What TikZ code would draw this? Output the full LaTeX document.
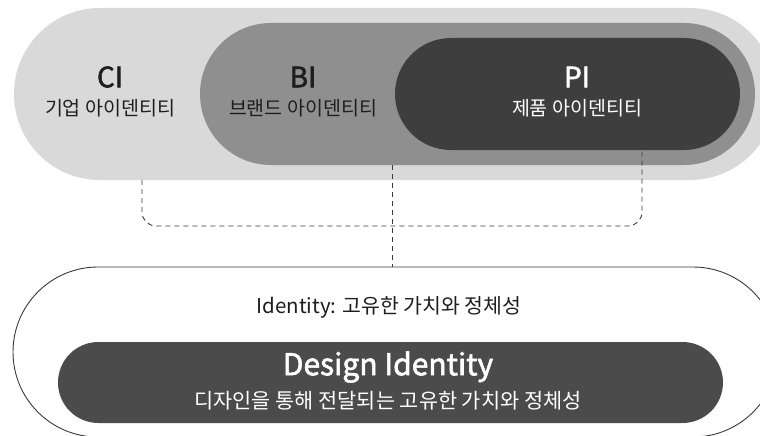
\documentclass[tikz,border=0pt]{standalone}
\usepackage{fontspec}
\setmainfont{Noto Sans CJK KR}
\newfontfamily\medio[FakeBold=2]{Noto Sans CJK KR}
\usepackage{tikz}
\usetikzlibrary{calc,positioning}
\definecolor{fundo}{HTML}{FFFFFF}
\definecolor{cinzaclaro}{HTML}{D9D9D9}
\definecolor{cinzamedio}{HTML}{8F8F8F}
\definecolor{grafite}{HTML}{3E3E3E}
\definecolor{grafitedi}{HTML}{4B4B4B}
\definecolor{tinta}{HTML}{1E1E1E}
\definecolor{linhatrac}{HTML}{3A3A3A}
\tikzset{
  capsula/.style={draw=none,inner sep=0pt,rounded corners=#1},
  titulo/.style={font=\fontsize{28}{31}\medio,inner sep=0pt},
  legenda/.style={font=\fontsize{19.5}{22}\selectfont,inner sep=0pt},
  tracejado/.style={linhatrac,line width=0.9pt,dash pattern=on 5pt off 4pt,rounded corners=14}
}

\begin{document}
\begin{tikzpicture}[x=1pt,y=-1pt]
      \useasboundingbox (0,0) rectangle (760,436);
      \clip (0,0) rectangle (760,436);
      \fill[fundo] (0,0) rectangle (760,436);
      % camadas de cima
      \node[capsula=86,fill=cinzaclaro,minimum width=762,minimum height=172] (ci) at (395,94) {};
      \node[capsula=71,fill=cinzamedio,minimum width=555,minimum height=142] (bi) at (477.5,94) {};
      \node[capsula=56,fill=grafite,minimum width=345,minimum height=112] (pi) at (567.5,94) {};
      \node[titulo,tinta] (ci-t) at (110,77) {CI};
      \node[legenda,tinta] (ci-s) at (110,108) {기업 아이덴티티};
      \node[titulo,tinta] (bi-t) at (303,77) {BI};
      \node[legenda,tinta] (bi-s) at (303,108) {브랜드 아이덴티티};
      \node[titulo,white] (pi-t) at (577,77) {PI};
      \node[legenda,white] (pi-s) at (577,108) {제품 아이덴티티};
      % bloco de baixo
      \node[capsula=85,draw=linhatrac,line width=0.9pt,minimum width=765,minimum height=170] (id) at (395.5,352) {};
      \node[legenda,tinta,font=\fontsize{20.5}{23}\selectfont] (id-t) at (389,307) {Identity: 고유한 가치와 정체성};
      \node[capsula=40.5,fill=grafitedi,minimum width=665,minimum height=81] (di) at (390.5,382.5) {};
      \node[titulo,white,font=\fontsize{30}{33}\medio] (di-t) at (388,367) {Design Identity};
      \node[legenda,white,font=\fontsize{20.8}{23}\selectfont] (di-s) at (388,401) {디자인을 통해 전달되는 고유한 가치와 정체성};
      % ligacoes
      \coordinate (esq) at (142,226);
      \coordinate (dir) at (642,226);
      \coordinate (meio) at (392,226);
      \draw[tracejado] (ci.south -| esq) |- (dir) -- (pi.south -| dir);
      \draw[tracejado] (bi.south -| meio) -- (id.north -| meio);
    \end{tikzpicture}
\end{document}
